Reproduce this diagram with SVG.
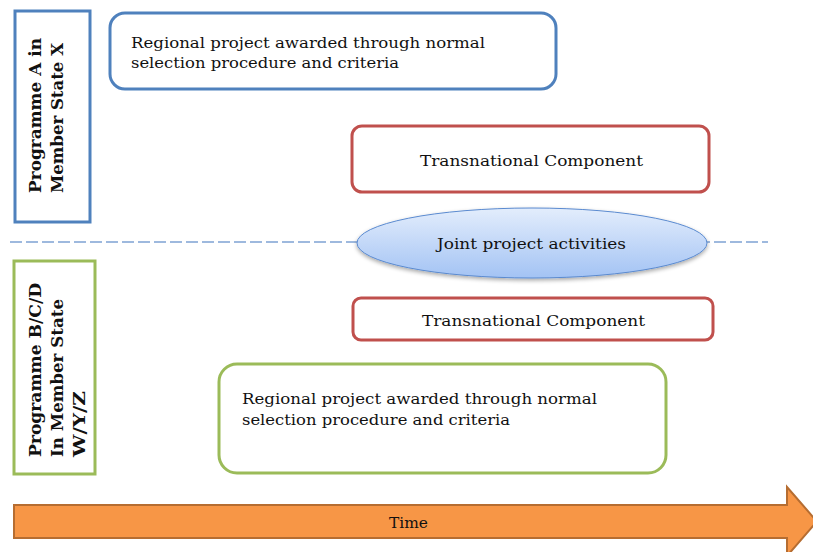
<svg xmlns="http://www.w3.org/2000/svg" width="813" height="552" viewBox="0 0 813 552">
<defs>
<linearGradient id="ellGrad" x1="0" y1="0" x2="0" y2="1">
<stop offset="0" stop-color="#e3edfc"/>
<stop offset="1" stop-color="#a3c3f4"/>
</linearGradient>
<filter id="shadow" x="-10%" y="-20%" width="120%" height="150%">
<feGaussianBlur in="SourceAlpha" stdDeviation="2"/>
<feOffset dx="0" dy="2" result="b"/>
<feComponentTransfer><feFuncA type="linear" slope="0.35"/></feComponentTransfer>
<feMerge><feMergeNode/><feMergeNode in="SourceGraphic"/></feMerge>
</filter>
<style>
.t{font-family:"DejaVu Serif","Liberation Serif",serif;font-size:15.5px;fill:#111;}
.v{font-family:"DejaVu Serif","Liberation Serif",serif;font-size:16.5px;font-weight:bold;fill:#111;}
.blue{fill:#fff;stroke:#4f81bd;stroke-width:3;}
.red{fill:#fff;stroke:#c0504d;stroke-width:3;}
.green{fill:#fff;stroke:#9bbb59;stroke-width:3;}
</style>
</defs>
<rect width="813" height="552" fill="#fff"/>
<g id="connectors">
<line x1="10" y1="242" x2="768" y2="242" stroke="#7fa3d3" stroke-width="1.6" stroke-dasharray="12,4"/>
</g>
<g id="programmeA">
<rect class="blue" x="15" y="11" width="75" height="211"/>
<text class="v" transform="translate(41,193) rotate(-90)" textLength="155" lengthAdjust="spacingAndGlyphs">Programme A in</text>
<text class="v" transform="translate(63,193) rotate(-90)" textLength="150" lengthAdjust="spacingAndGlyphs">Member State X</text>
</g>
<g id="regionalA">
<rect class="blue" x="110" y="13" width="446" height="76" rx="15"/>
<text class="t" x="131" y="48" textLength="354" lengthAdjust="spacingAndGlyphs">Regional project awarded through normal</text>
<text class="t" x="131" y="68" textLength="268" lengthAdjust="spacingAndGlyphs">selection procedure and criteria</text>
</g>
<g id="transnational1">
<rect class="red" x="352" y="126" width="357" height="66" rx="10"/>
<text class="t" x="420" y="166" textLength="223" lengthAdjust="spacingAndGlyphs">Transnational Component</text>
</g>
<g id="joint">
<ellipse cx="532" cy="243" rx="175" ry="35" fill="url(#ellGrad)" stroke="#5a8ad0" stroke-width="1" filter="url(#shadow)"/>
<text class="t" x="437" y="249" textLength="189" lengthAdjust="spacingAndGlyphs">Joint project activities</text>
</g>
<g id="transnational2">
<rect class="red" x="353" y="298" width="360" height="42" rx="8"/>
<text class="t" x="422" y="326" textLength="223" lengthAdjust="spacingAndGlyphs">Transnational Component</text>
</g>
<g id="programmeB">
<rect class="green" x="14" y="261" width="81" height="213"/>
<text class="v" transform="translate(41,457) rotate(-90)" textLength="174" lengthAdjust="spacingAndGlyphs">Programme B/C/D</text>
<text class="v" transform="translate(63,457) rotate(-90)" textLength="158" lengthAdjust="spacingAndGlyphs">In Member State</text>
<text class="v" transform="translate(85,457) rotate(-90)" textLength="66" lengthAdjust="spacingAndGlyphs">W/Y/Z</text>
</g>
<g id="regionalB">
<rect class="green" x="219" y="364" width="447" height="109" rx="18"/>
<text class="t" x="242" y="404" textLength="355" lengthAdjust="spacingAndGlyphs">Regional project awarded through normal</text>
<text class="t" x="242" y="425" textLength="268" lengthAdjust="spacingAndGlyphs">selection procedure and criteria</text>
</g>
<g id="time">
<path d="M14,505 L787,505 L787,487 L817,521.5 L787,556 L787,538 L14,538 Z" fill="#f79646" stroke="#b66d31" stroke-width="2"/>
<text class="t" x="389" y="528" font-size="14" textLength="39" lengthAdjust="spacingAndGlyphs">Time</text>
</g>
</svg>
